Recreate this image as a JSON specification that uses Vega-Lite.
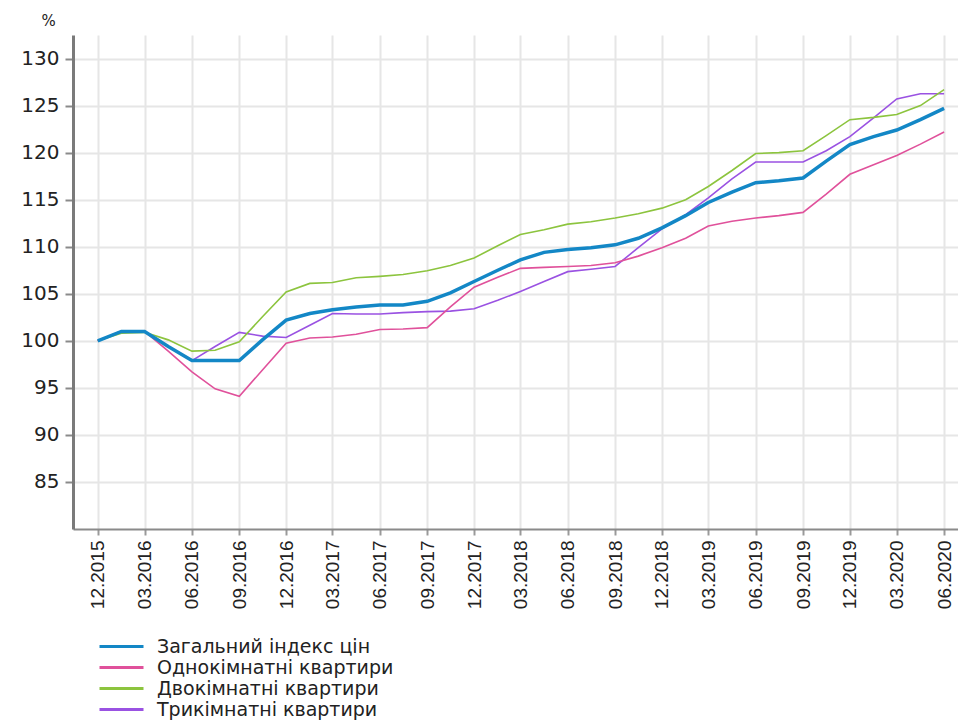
{
  "$schema": "https://vega.github.io/schema/vega-lite/v6.json",
  "autosize": {"type": "none"},
  "padding": {"left": 73, "top": 35, "right": 0, "bottom": 193},
  "width": 885,
  "height": 494,
  "background": "white",
  "config": {
    "view": {"stroke": null},
    "font": "DejaVu Sans",
    "axis": {"gridColor": "#e6e6e6", "gridWidth": 2, "labelColor": "#222", "labelFont": "DejaVu Sans"}
  },
  "data": {
    "values": [
      {"date": "2015-12-01", "Загальний індекс цін": 100, "Однокімнатні квартири": 100, "Двокімнатні квартири": 100, "Трикімнатні квартири": 100},
      {"date": "2016-01-16", "Загальний індекс цін": 101, "Однокімнатні квартири": 101, "Двокімнатні квартири": 100.8, "Трикімнатні квартири": 101.05},
      {"date": "2016-03-01", "Загальний індекс цін": 101, "Однокімнатні квартири": 101, "Двокімнатні квартири": 100.9, "Трикімнатні квартири": 101.05},
      {"date": "2016-04-16", "Загальний індекс цін": 99.4, "Однокімнатні квартири": 98.9, "Двокімнатні квартири": 100.1, "Трикімнатні квартири": 99.4},
      {"date": "2016-06-01", "Загальний індекс цін": 97.9, "Однокімнатні квартири": 96.7, "Двокімнатні квартири": 98.9, "Трикімнатні квартири": 97.9},
      {"date": "2016-07-16", "Загальний індекс цін": 97.9, "Однокімнатні квартири": 94.9, "Двокімнатні квартири": 99.0, "Трикімнатні квартири": 99.4},
      {"date": "2016-09-01", "Загальний індекс цін": 97.9, "Однокімнатні квартири": 94.1, "Двокімнатні квартири": 99.9, "Трикімнатні квартири": 100.9},
      {"date": "2016-10-16", "Загальний індекс цін": 100.1, "Однокімнатні квартири": 96.9, "Двокімнатні квартири": 102.55, "Трикімнатні квартири": 100.5},
      {"date": "2016-12-01", "Загальний індекс цін": 102.2, "Однокімнатні квартири": 99.75, "Двокімнатні квартири": 105.2, "Трикімнатні квартири": 100.35},
      {"date": "2017-01-16", "Загальний індекс цін": 102.9, "Однокімнатні квартири": 100.3, "Двокімнатні квартири": 106.1, "Трикімнатні квартири": 101.65},
      {"date": "2017-03-01", "Загальний індекс цін": 103.3, "Однокімнатні квартири": 100.4, "Двокімнатні квартири": 106.2, "Трикімнатні квартири": 102.9},
      {"date": "2017-04-16", "Загальний індекс цін": 103.6, "Однокімнатні квартири": 100.7, "Двокімнатні квартири": 106.7, "Трикімнатні квартири": 102.85},
      {"date": "2017-06-01", "Загальний індекс цін": 103.8, "Однокімнатні квартири": 101.2, "Двокімнатні квартири": 106.85, "Трикімнатні квартири": 102.85},
      {"date": "2017-07-16", "Загальний індекс цін": 103.8, "Однокімнатні квартири": 101.25, "Двокімнатні квартири": 107.05, "Трикімнатні квартири": 103.0},
      {"date": "2017-09-01", "Загальний індекс цін": 104.2, "Однокімнатні квартири": 101.4, "Двокімнатні квартири": 107.45, "Трикімнатні квартири": 103.1},
      {"date": "2017-10-16", "Загальний індекс цін": 105.1, "Однокімнатні квартири": 103.6, "Двокімнатні квартири": 108.0, "Трикімнатні квартири": 103.15},
      {"date": "2017-12-01", "Загальний індекс цін": 106.3, "Однокімнатні квартири": 105.7, "Двокімнатні квартири": 108.8, "Трикімнатні квартири": 103.4},
      {"date": "2018-01-16", "Загальний індекс цін": 107.5, "Однокімнатні квартири": 106.75, "Двокімнатні квартири": 110.1, "Трикімнатні квартири": 104.3},
      {"date": "2018-03-01", "Загальний індекс цін": 108.6, "Однокімнатні квартири": 107.7, "Двокімнатні квартири": 111.3, "Трикімнатні квартири": 105.25},
      {"date": "2018-04-16", "Загальний індекс цін": 109.4, "Однокімнатні квартири": 107.8, "Двокімнатні квартири": 111.8, "Трикімнатні квартири": 106.3},
      {"date": "2018-06-01", "Загальний індекс цін": 109.7, "Однокімнатні квартири": 107.9, "Двокімнатні квартири": 112.4, "Трикімнатні квартири": 107.35},
      {"date": "2018-07-16", "Загальний індекс цін": 109.9, "Однокімнатні квартири": 108.0, "Двокімнатні квартири": 112.65, "Трикімнатні квартири": 107.6},
      {"date": "2018-09-01", "Загальний індекс цін": 110.2, "Однокімнатні квартири": 108.3, "Двокімнатні квартири": 113.05, "Трикімнатні квартири": 107.9},
      {"date": "2018-10-16", "Загальний індекс цін": 110.9, "Однокімнатні квартири": 109.0, "Двокімнатні квартири": 113.5, "Трикімнатні квартири": 109.9},
      {"date": "2018-12-01", "Загальний індекс цін": 112.0, "Однокімнатні квартири": 109.9, "Двокімнатні квартири": 114.1, "Трикімнатні квартири": 111.9},
      {"date": "2019-01-16", "Загальний індекс цін": 113.3, "Однокімнатні квартири": 110.9, "Двокімнатні квартири": 115.0, "Трикімнатні квартири": 113.4},
      {"date": "2019-03-01", "Загальний індекс цін": 114.7, "Однокімнатні квартири": 112.2, "Двокімнатні квартири": 116.4, "Трикімнатні квартири": 115.2},
      {"date": "2019-04-16", "Загальний індекс цін": 115.8, "Однокімнатні квартири": 112.7, "Двокімнатні квартири": 118.1, "Трикімнатні квартири": 117.2},
      {"date": "2019-06-01", "Загальний індекс цін": 116.8, "Однокімнатні квартири": 113.05, "Двокімнатні квартири": 119.9, "Трикімнатні квартири": 119.0},
      {"date": "2019-07-16", "Загальний індекс цін": 117.0, "Однокімнатні квартири": 113.3, "Двокімнатні квартири": 120.0, "Трикімнатні квартири": 119.0},
      {"date": "2019-09-01", "Загальний індекс цін": 117.3, "Однокімнатні квартири": 113.65, "Двокімнатні квартири": 120.2, "Трикімнатні квартири": 119.0},
      {"date": "2019-10-16", "Загальний індекс цін": 119.1, "Однокімнатні квартири": 115.6, "Двокімнатні квартири": 121.8, "Трикімнатні квартири": 120.2},
      {"date": "2019-12-01", "Загальний індекс цін": 120.85, "Однокімнатні квартири": 117.7, "Двокімнатні квартири": 123.5, "Трикімнатні квартири": 121.7},
      {"date": "2020-01-16", "Загальний індекс цін": 121.7, "Однокімнатні квартири": 118.7, "Двокімнатні квартири": 123.75, "Трикімнатні квартири": 123.7},
      {"date": "2020-03-01", "Загальний індекс цін": 122.4, "Однокімнатні квартири": 119.7, "Двокімнатні квартири": 124.05, "Трикімнатні квартири": 125.7},
      {"date": "2020-04-16", "Загальний індекс цін": 123.5, "Однокімнатні квартири": 120.9, "Двокімнатні квартири": 125.0, "Трикімнатні квартири": 126.25},
      {"date": "2020-06-01", "Загальний індекс цін": 124.7, "Однокімнатні квартири": 122.2, "Двокімнатні квартири": 126.7, "Трикімнатні квартири": 126.25}
    ]
  },
  "transform": [
    {"fold": ["Трикімнатні квартири", "Двокімнатні квартири", "Однокімнатні квартири", "Загальний індекс цін"], "as": ["series", "value"]}
  ],
  "encoding": {
    "x": {
      "field": "date",
      "type": "temporal",
      "scale": {"type": "utc", "domain": [{"year": 2015, "month": 10, "date": 14, "utc": true}, {"year": 2020, "month": 6, "date": 28, "utc": true}]},
      "axis": {
        "title": null,
        "format": "%m.%Y",
        "values": [
          {"year": 2015, "month": 12, "date": 1, "utc": true},
          {"year": 2016, "month": 3, "date": 1, "utc": true},
          {"year": 2016, "month": 6, "date": 1, "utc": true},
          {"year": 2016, "month": 9, "date": 1, "utc": true},
          {"year": 2016, "month": 12, "date": 1, "utc": true},
          {"year": 2017, "month": 3, "date": 1, "utc": true},
          {"year": 2017, "month": 6, "date": 1, "utc": true},
          {"year": 2017, "month": 9, "date": 1, "utc": true},
          {"year": 2017, "month": 12, "date": 1, "utc": true},
          {"year": 2018, "month": 3, "date": 1, "utc": true},
          {"year": 2018, "month": 6, "date": 1, "utc": true},
          {"year": 2018, "month": 9, "date": 1, "utc": true},
          {"year": 2018, "month": 12, "date": 1, "utc": true},
          {"year": 2019, "month": 3, "date": 1, "utc": true},
          {"year": 2019, "month": 6, "date": 1, "utc": true},
          {"year": 2019, "month": 9, "date": 1, "utc": true},
          {"year": 2019, "month": 12, "date": 1, "utc": true},
          {"year": 2020, "month": 3, "date": 1, "utc": true},
          {"year": 2020, "month": 6, "date": 1, "utc": true}
        ],
        "labelAngle": -90,
        "labelAlign": "right",
        "labelBaseline": "middle",
        "labelFont": "Liberation Sans",
        "labelFontSize": 19,
        "labelPadding": 5,
        "labelOverlap": false,
        "labelFlush": false,
        "domainColor": "#8a8a8a",
        "domainWidth": 2,
        "tickColor": "#9a9a9a",
        "tickWidth": 2,
        "tickSize": 6,
        "grid": true
      }
    },
    "y": {
      "field": "value",
      "type": "quantitative",
      "scale": {"domain": [80, 132.5], "nice": false, "zero": false},
      "axis": {
        "title": "%",
        "titleAngle": 0,
        "titleX": -25,
        "titleY": -15,
        "titleAlign": "center",
        "titleBaseline": "middle",
        "titleFontSize": 15,
        "titleFontWeight": "normal",
        "titleColor": "#222",
        "values": [85, 90, 95, 100, 105, 110, 115, 120, 125, 130],
        "labelFontSize": 20,
        "labelPadding": 6,
        "domainColor": "#7a7a7a",
        "domainWidth": 3,
        "tickColor": "#8a8a8a",
        "tickWidth": 2,
        "tickSize": 8,
        "grid": true
      }
    },
    "color": {
      "field": "series",
      "type": "nominal",
      "scale": {
        "domain": ["Загальний індекс цін", "Однокімнатні квартири", "Двокімнатні квартири", "Трикімнатні квартири"],
        "range": ["#1387c6", "#e0519b", "#8cc43e", "#9a52e2"]
      },
      "legend": {
        "title": null,
        "orient": "none",
        "legendX": 39,
        "legendY": 602,
        "padding": 0,
        "symbolType": "M-4,0H4",
        "symbolSize": 121,
        "symbolStrokeWidth": 3,
        "labelOffset": 26,
        "labelFont": "DejaVu Sans",
        "labelFontSize": 19,
        "labelColor": "#222",
        "labelLimit": 400,
        "rowPadding": 1
      }
    }
  },
  "layer": [
    {
      "transform": [{"filter": "datum.series !== 'Загальний індекс цін'"}],
      "mark": {"type": "line", "strokeWidth": 1.6, "interpolate": "linear"}
    },
    {
      "transform": [{"filter": "datum.series === 'Загальний індекс цін'"}],
      "mark": {"type": "line", "strokeWidth": 3.5, "interpolate": "linear"}
    }
  ]
}
